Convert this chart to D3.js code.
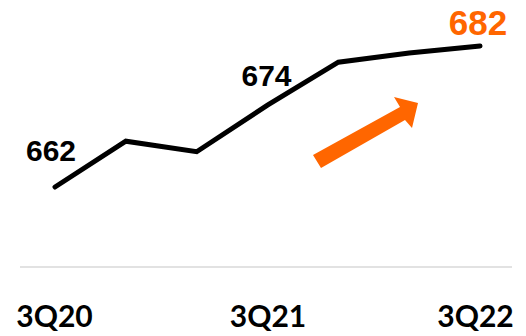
<!DOCTYPE html>
<html><head><meta charset="utf-8">
<script src="https://cdn.jsdelivr.net/npm/d3@7"></script>
<style>html,body{margin:0;padding:0;background:#fff;}svg{display:block;}</style>
</head><body>
<svg id="c" width="526" height="336"></svg>
<script>
const periods = [0, 1, 2, 3, 4, 5, 6];
const values = [662, 668.5, 667, 673.6, 679.7, 681, 682];
const tickLabels = {0: "3Q20", 3: "3Q21", 6: "3Q22"};
const valueLabels = [{i: 0, text: "662"}, {i: 3, text: "674"}, {i: 6, text: "682"}];

const svg = d3.select("#c");
const x = d3.scalePoint().domain(periods).range([55, 480]);
const y = d3.scaleLinear().domain([662, 682]).range([187, 46]);

// baseline
svg.append("line").attr("x1", 20).attr("x2", 512).attr("y1", 267).attr("y2", 267)
  .attr("stroke", "#d9d9d9").attr("stroke-width", 1.5);

// axis labels
const axis = d3.axisBottom(x).tickValues([0, 3, 6]).tickFormat(d => tickLabels[d]).tickSize(0).tickPadding(0);
const ag = svg.append("g").attr("transform", "translate(0,327)").call(axis);
ag.select(".domain").remove();
ag.selectAll("text").attr("font-family", "Lato, sans-serif")
  .attr("font-weight", "bold").attr("font-size", 30).attr("fill", "#000").attr("dy", "0").attr("y", 0);
ag.selectAll(".tick").filter(d => d === 0).select("text").attr("dx", -1);
ag.selectAll(".tick").filter(d => d === 6).select("text").attr("dx", -5);

// line
const line = d3.line().x((d, i) => x(periods[i])).y(d => y(d));
svg.append("path").datum(values).attr("d", line).attr("fill", "none")
  .attr("stroke", "#000").attr("stroke-width", 5).attr("stroke-linecap", "round").attr("stroke-linejoin", "miter");

// value labels
const lblPos = {0: [-4, -26], 3: [-1, -19], 6: [-2, -11]};
svg.selectAll("text.v").data(valueLabels).join("text").attr("class", "v")
  .attr("x", d => x(periods[d.i]) + lblPos[d.i][0])
  .attr("y", d => y(values[d.i]) + lblPos[d.i][1])
  .attr("text-anchor", "middle")
  .attr("font-family", "Liberation Sans, Arial, sans-serif").attr("font-weight", "bold")
  .attr("font-size", d => d.i === 6 ? 35 : 30)
  .attr("fill", d => d.i === 6 ? "#ff6600" : "#000")
  .text(d => d.text);

// arrow
svg.append("polygon")
  .attr("points", "313,155 321,168 405,120 412,128 418,103 394,97 400,107")
  .attr("fill", "#ff6600");
</script>
</body></html>
